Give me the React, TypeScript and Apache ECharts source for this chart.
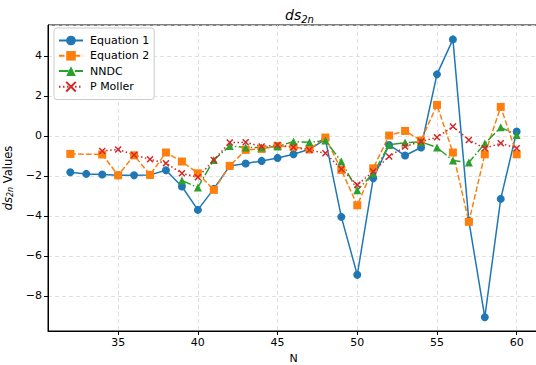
import React, { useEffect, useRef } from "react";
import * as echarts from "echarts";

const startN = 32;
const equation1 = [-1.82, -1.9, -1.93, -1.97, -1.97, -1.95, -1.72, -2.53, -3.7, -2.65, -1.5, -1.38, -1.25, -1.1, -0.92, -0.67, -0.17, -4.05, -6.95, -2.12, -0.45, -0.98, -0.58, 3.08, 4.83, -4.25, -9.07, -3.15, 0.22];
const equation2 = [-0.9, null, -0.93, -1.97, -0.97, -1.95, -0.83, -1.28, -1.87, -2.7, -1.5, -0.7, -0.65, -0.5, -0.55, -0.67, -0.08, -1.7, -3.47, -1.62, 0.02, 0.25, -0.23, 1.55, -0.83, -4.3, -0.92, 1.45, -0.92];
const nndc = [null, null, null, null, null, null, null, -2.23, -2.58, -1.2, -0.5, -0.58, -0.58, -0.53, -0.28, -0.32, -0.23, -1.28, -2.72, -1.87, -0.45, -0.33, -0.3, -0.58, -1.23, -1.33, -0.38, 0.43, 0.05];
const pMoller = [null, null, -0.75, -0.68, -0.95, -1.17, -1.37, -1.87, -2.07, -1.2, -0.33, -0.32, -0.53, -0.45, -0.57, -0.7, -0.87, -1.65, -2.45, -1.78, -1.03, -0.53, -0.28, -0.07, 0.47, -0.2, -0.62, -0.37, -0.62];
const seriesNames = ["Equation 1", "Equation 2", "NNDC", "P Moller"];

const pairs = (arr: (number | null)[]) =>
  arr.map((v, i) => [startN + i, v]).filter((p) => p[1] !== null);

const FONT = "DejaVu Sans";
const FS = 11;
const minus = (v: number) => String(v).replace("-", "\u2212");

export default function App() {
  const ref = useRef<HTMLDivElement>(null);
  useEffect(() => {
    const chart = echarts.init(ref.current!, undefined, { renderer: "svg" });
    const lw = 1.5;
    const colors = ["#1f77b4", "#ff7f0e", "#2ca02c", "#d62728"];
    const gridLine = { show: true, lineStyle: { color: "#d9d9d9", type: [4, 3], width: 0.8 } };
    chart.setOption({
      animation: false,
      textStyle: { fontFamily: FONT },
      title: {
        text: "{i|ds}{s|2n}",
        left: 280,
        top: 1,
        textStyle: {
          rich: {
            i: { fontFamily: FONT, fontStyle: "italic", fontWeight: "normal", fontSize: 14, color: "#000" },
            s: { fontFamily: FONT, fontStyle: "italic", fontWeight: "normal", fontSize: 10, color: "#000", padding: [8, 0, 0, 0] },
          },
        },
      },
      legend: {
        orient: "vertical",
        left: 54,
        top: 28,
        padding: [7, 5, 7, 4],
        itemGap: 4.3,
        itemWidth: 24,
        itemHeight: 12,
        backgroundColor: "rgba(255,255,255,0.8)",
        borderColor: "#ccc",
        borderWidth: 1,
        borderRadius: 3,
        textStyle: { fontFamily: FONT, fontSize: FS, color: "#000", padding: [0, 0, 0, 2] },
        data: seriesNames,
      },
      grid: {
        left: 48, top: 25, width: 491, height: 306,
        outerBoundsMode: "none", containLabel: false,
        show: true, borderColor: "#000", borderWidth: 1, backgroundColor: "transparent",
      },
      xAxis: {
        type: "value",
        min: 30.6,
        max: 61.4,
        minInterval: 5,
        maxInterval: 5,
        name: "N",
        nameLocation: "middle",
        nameGap: 19,
        nameTextStyle: { fontFamily: FONT, fontSize: FS, color: "#000" },
        axisLine: { onZero: false, lineStyle: { color: "#000" } },
        axisTick: { length: 4, lineStyle: { color: "#000" } },
        axisLabel: {
          fontFamily: FONT, fontSize: FS, color: "#000", margin: 6,
          showMinLabel: false, showMaxLabel: false,
          formatter: (v: number) => (v % 5 === 0 ? minus(v) : ""),
        },
        splitLine: gridLine,
      },
      yAxis: {
        type: "value",
        min: -9.76,
        max: 5.55,
        minInterval: 2,
        maxInterval: 2,
        name: "{i|ds}{s|2n}{t| Values}",
        nameLocation: "middle",
        nameGap: 21,
        nameTextStyle: {
          rich: {
            i: { fontFamily: FONT, fontStyle: "italic", fontSize: FS + 0.5, color: "#000" },
            s: { fontFamily: FONT, fontStyle: "italic", fontSize: 8, color: "#000", padding: [5, 0, 0, 0] },
            t: { fontFamily: FONT, fontSize: FS + 0.5, color: "#000" },
          },
        },
        axisLine: { show: true, onZero: false, lineStyle: { color: "#000" } },
        axisTick: { show: true, length: 4, lineStyle: { color: "#000" } },
        axisLabel: {
          fontFamily: FONT, fontSize: FS, color: "#000", margin: 6,
          showMinLabel: false, showMaxLabel: false,
          formatter: (v: number) => (v % 2 === 0 ? minus(v) : ""),
        },
        splitLine: gridLine,
      },
      series: [
        {
          name: seriesNames[0], type: "line", data: pairs(equation1), color: colors[0],
          symbol: "circle", symbolSize: 8,
          lineStyle: { width: lw, type: "solid", color: colors[0] },
          itemStyle: { color: colors[0] },
        },
        {
          name: seriesNames[1], type: "line", data: pairs(equation2), color: colors[1],
          symbol: "rect", symbolSize: 8,
          lineStyle: { width: lw, type: [5.5, 2.4], color: colors[1] },
          itemStyle: { color: colors[1] },
        },
        {
          name: seriesNames[2], type: "line", data: pairs(nndc), color: colors[2],
          symbol: "triangle", symbolSize: 8,
          lineStyle: { width: lw, type: [9.6, 2.4, 1.5, 2.4], color: colors[2] },
          itemStyle: { color: colors[2] },
        },
        {
          name: seriesNames[3], type: "line", data: pairs(pMoller), color: colors[3],
          symbol: "path://M0,0L10,10M10,0L0,10", symbolSize: 6,
          lineStyle: { width: lw, type: [1.5, 2.5], color: colors[3] },
          itemStyle: { color: colors[3], borderColor: colors[3], borderWidth: 1.5 },
        },
      ],
    });
    return () => chart.dispose();
  }, []);
  return <div ref={ref} style={{ width: 536, height: 365, position: "absolute", left: 0, top: 0 }} />;
}
